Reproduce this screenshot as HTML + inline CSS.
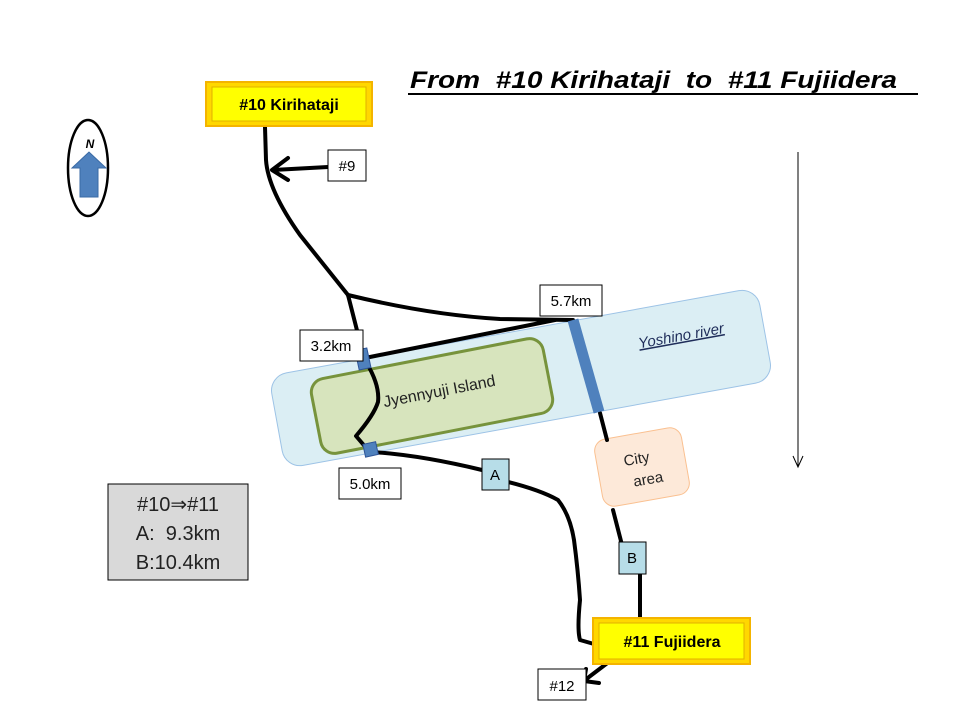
<!DOCTYPE html>
<html><head><meta charset="utf-8"><style>
html,body{margin:0;padding:0;background:#fff;}
svg{display:block;font-family:"Liberation Sans",sans-serif;}
</style></head><body>
<svg width="960" height="720" viewBox="0 0 960 720" xmlns="http://www.w3.org/2000/svg">
<rect width="960" height="720" fill="#fff"/>
<!-- title -->
<text x="410" y="88" font-size="24" font-weight="bold" font-style="italic" fill="#000" xml:space="preserve" textLength="487" lengthAdjust="spacingAndGlyphs">From  #10 Kirihataji  to  #11 Fujiidera</text>
<line x1="408" y1="94" x2="918" y2="94" stroke="#000" stroke-width="2"/>
<!-- river -->
<g transform="translate(521,378) rotate(-10.3)">
<rect x="-248" y="-47" width="496" height="94" rx="18" fill="#dbeef4" stroke="#9dc3e6" stroke-width="1"/>
<text x="165" y="-8" font-size="15" font-style="italic" fill="#1f2d5a" text-anchor="middle" text-decoration="underline">Yoshino river</text>
</g>
<!-- island -->
<g transform="translate(432,396) rotate(-11)">
<rect x="-118" y="-38" width="236" height="76" rx="14" fill="#d7e4bd" stroke="#77933c" stroke-width="3"/>
<text x="8" y="2" font-size="16" fill="#222" text-anchor="middle">Jyennyuji Island</text>
</g>
<!-- city area -->
<g transform="translate(642,467) rotate(-10)">
<rect x="-44" y="-34" width="88" height="68" rx="12" fill="#fde9d9" stroke="#fac090" stroke-width="1"/>
<text x="-4" y="-4" font-size="15" fill="#222" text-anchor="middle">City</text>
<text x="4" y="18" font-size="15" fill="#222" text-anchor="middle">area</text>
</g>
<!-- roads -->
<g fill="none" stroke="#000" stroke-width="4" stroke-linecap="round" stroke-linejoin="round">
<path d="M265,127 L266,160 Q268,190 300,235 L348,295 L362,350"/>
<path d="M348,295 Q430,315 500,319 L573,320"/>
<path d="M365,358 L555,320"/>
<path d="M366,362 Q380,385 378,402 Q374,415 356,436 L368,450"/>
<path d="M372,452 Q420,455 482,470"/>
<path d="M508,482 Q540,490 558,500 Q570,515 574,540 Q578,570 580,600 Q577,630 580,640 L594,644"/>
<path d="M600,413 L607,440"/>
<path d="M613,510 L622,545"/>
<path d="M640,574 L640,618"/>
<path d="M328,167 L273,170 M288,158 L272,170 L288,180"/>
<path d="M614,658 L585,680 M586,669 L584,681 L599,683"/>
</g>
<!-- bridges -->
<line x1="573" y1="320" x2="599" y2="412" stroke="#4f81bd" stroke-width="11" stroke-linecap="butt"/>
<rect x="357" y="349" width="12" height="20" fill="#4f81bd" stroke="#2f5597" stroke-width="1" transform="rotate(-12 363 359)"/>
<rect x="364" y="443" width="13" height="13" fill="#4f81bd" stroke="#2f5597" stroke-width="1" transform="rotate(-12 370 449)"/>
<!-- labels -->
<g font-size="15" fill="#000">
<rect x="328" y="150" width="38" height="31" fill="#fff" stroke="#000"/>
<text x="347" y="171" text-anchor="middle">#9</text>
<rect x="540" y="285" width="62" height="31" fill="#fff" stroke="#000"/>
<text x="571" y="306" text-anchor="middle">5.7km</text>
<rect x="300" y="330" width="63" height="31" fill="#fff" stroke="#000"/>
<text x="331" y="351" text-anchor="middle">3.2km</text>
<rect x="339" y="468" width="62" height="31" fill="#fff" stroke="#000"/>
<text x="370" y="489" text-anchor="middle">5.0km</text>
<rect x="538" y="669" width="48" height="31" fill="#fff" stroke="#000"/>
<text x="562" y="691" text-anchor="middle">#12</text>
<rect x="482" y="459" width="27" height="31" fill="#b7dde8" stroke="#000"/>
<text x="495" y="480" text-anchor="middle">A</text>
<rect x="619" y="542" width="27" height="32" fill="#b7dde8" stroke="#000"/>
<text x="632" y="563" text-anchor="middle">B</text>
</g>
<!-- stations -->
<rect x="206" y="82" width="166" height="44" fill="#ffd700" stroke="#f4b400" stroke-width="2"/>
<rect x="212" y="87" width="154" height="34" fill="#ffff00" stroke="#e0b000" stroke-width="1"/>
<text x="289" y="110" font-size="16" font-weight="bold" text-anchor="middle">#10 Kirihataji</text>
<rect x="593" y="618" width="157" height="46" fill="#ffd700" stroke="#f4b400" stroke-width="2"/>
<rect x="599" y="623" width="145" height="36" fill="#ffff00" stroke="#e0b000" stroke-width="1"/>
<text x="672" y="647" font-size="16" font-weight="bold" text-anchor="middle">#11 Fujiidera</text>
<!-- compass -->
<ellipse cx="88" cy="168" rx="20" ry="48" fill="#fff" stroke="#000" stroke-width="2.5"/>
<text x="90" y="148" font-size="12" font-weight="bold" font-style="italic" text-anchor="middle">N</text>
<path d="M80,197 L80,168 L72,168 L89,152 L106,168 L98,168 L98,197 Z" fill="#4f81bd" stroke="#3a6aa5"/>
<!-- legend -->
<rect x="108" y="484" width="140" height="96" fill="#d9d9d9" stroke="#000"/>
<g font-family="'Liberation Sans',sans-serif" font-size="20" fill="#222" text-anchor="middle">
<text x="178" y="511">#10⇒#11</text>
<text x="178" y="540" xml:space="preserve">A:  9.3km</text>
<text x="178" y="569">B:10.4km</text>
</g>
<!-- vertical arrow -->
<line x1="798" y1="152" x2="798" y2="466" stroke="#000" stroke-width="1"/>
<path d="M793,456 L798,467 L803,456" fill="none" stroke="#000" stroke-width="1"/>
</svg>
</body></html>
